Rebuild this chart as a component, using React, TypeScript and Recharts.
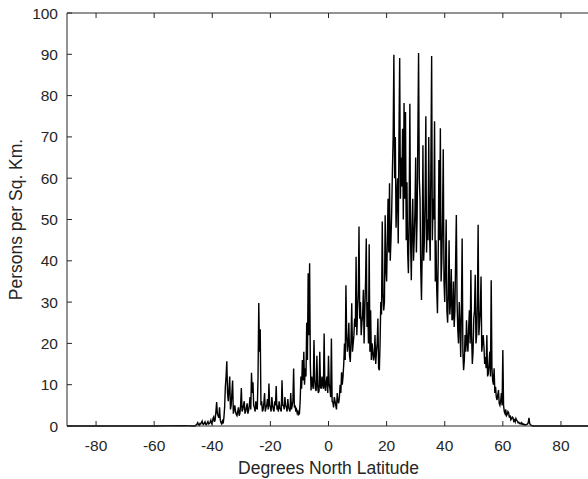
import React from 'react';
import { LineChart, Line, XAxis, YAxis } from 'recharts';

// empty far south, then quarter-degree samples from -46 N, then empty far north
const southLats = [-90, -60, -50, -46.5];
const southDensity = [0, 0, 0.1, 0];

const bandStart = -46;
const bandStep = 0.5;

// samples on whole and half degrees
const band1 = [0, 0.3, 0.8, 0.2, 0.5, 1.2, 0.4, 1.0, 0.3, 1.1, 0.6, 1.4, 0.8, 2.2, 1.5, 5.8, 2.5, 4.5, 0.8, 1.2];
const band2 = [2.0, 9.5, 15.7, 6.0, 12.0, 5.0, 11.0, 4.0, 3.5, 2.5, 4.5, 3.0, 9.2, 4.0, 6.0, 3.5, 5.5, 3.8, 7.0, 12.9];
const band3 = [10.6, 4.5, 6.0, 4.0, 29.8, 23.4, 6.0, 4.0, 8.0, 4.5, 6.5, 10.3, 4.5, 7.0, 4.0, 6.0, 9.7, 4.5, 6.0, 4.0];
const band4 = [11.1, 5.0, 7.0, 4.5, 6.5, 4.0, 8.0, 5.0, 13.9, 5.0, 4.0, 3.5, 3.0, 12.0, 16.0, 18.0, 14.0, 25.0, 37.0, 39.4];
const band5 = [8.6, 10.0, 20.8, 9.0, 17.0, 8.0, 18.0, 9.0, 10.0, 22.4, 8.5, 12.0, 17.0, 9.0, 21.2, 5.7, 7.0, 5.0, 8.0, 5.5];
const band6 = [10.0, 13.0, 12.0, 20.0, 34.1, 18.0, 25.0, 15.5, 29.7, 20.0, 26.0, 41.0, 28.0, 48.3, 30.0, 25.0, 33.0, 28.0, 45.4, 30.0];
const band7 = [44.0, 28.0, 20.0, 15.9, 22.0, 18.0, 26.0, 13.5, 30.0, 49.5, 28.0, 51.0, 35.0, 55.0, 58.8, 45.0, 62.0, 89.9, 70.0, 55.0];
const band8 = [44.2, 89.1, 65.0, 72.0, 78.2, 76.0, 59.0, 37.0, 78.0, 35.3, 55.0, 45.0, 65.0, 50.0, 90.3, 55.0, 30.5, 68.0, 45.0, 75.0];
const band9 = [50.0, 70.0, 40.0, 89.6, 55.0, 73.8, 45.0, 27.3, 64.4, 72.1, 40.0, 67.0, 30.0, 50.0, 25.0, 45.0, 30.0, 25.6, 35.0, 28.0];
const band10 = [51.1, 23.2, 30.0, 16.7, 45.4, 13.5, 22.0, 25.6, 18.0, 28.0, 37.8, 15.0, 26.0, 36.6, 22.0, 48.7, 25.0, 36.2, 20.0, 19.2];
const band11 = [16.7, 22.0, 12.7, 18.0, 35.3, 11.1, 14.0, 9.5, 6.3, 8.7, 5.0, 8.0, 18.4, 3.5, 4.0, 2.8, 3.2, 2.6, 1.8, 2.0];
const band12 = [1.5, 1.8, 1.2, 0.9, 0.7, 0.8, 0.5, 0.4, 0.3, 0.5, 2.0, 0.3, 0.1, 0, 0, 0, 0, 0, 0, 0];

// samples a quarter degree after each of the above
const mid1 = [0.1, 0.5, 0.3, 0.6, 0.8, 0.5, 0.7, 0.4, 0.8, 0.5, 0.9, 0.6, 1.8, 1.0, 3.5, 3.0, 2.0, 1.5, 0.5, 0.6];
const mid2 = [4.5, 12.0, 8.0, 9.0, 4.0, 8.0, 3.0, 5.0, 2.8, 3.5, 2.5, 5.0, 3.5, 5.0, 3.0, 4.5, 3.0, 5.0, 4.0, 8.0];
const mid3 = [5.0, 3.5, 4.5, 12.0, 18.0, 5.0, 3.5, 5.5, 3.5, 5.0, 4.0, 5.0, 3.5, 5.0, 3.5, 5.0, 4.0, 3.5, 4.5, 3.5];
const mid4 = [5.0, 4.0, 5.0, 3.5, 4.5, 3.5, 4.0, 6.0, 4.5, 3.5, 3.0, 2.8, 6.0, 9.0, 11.0, 10.0, 12.0, 16.0, 22.0, 15.0];
const mid5 = [12.0, 9.0, 11.0, 8.5, 10.0, 8.5, 9.5, 12.0, 9.0, 9.5, 11.0, 8.0, 10.0, 7.0, 6.0, 4.5, 6.0, 4.0, 6.0, 7.0];
const mid6 = [8.0, 10.0, 15.0, 16.0, 22.0, 20.0, 17.0, 21.0, 18.0, 22.0, 24.0, 22.0, 32.0, 26.0, 22.0, 27.0, 20.0, 35.0, 24.0, 20.0];
const mid7 = [18.0, 16.0, 18.0, 17.0, 15.0, 20.0, 14.0, 20.0, 27.0, 32.0, 30.0, 38.0, 45.0, 42.0, 40.0, 52.0, 70.0, 60.0, 48.0, 60.0];
const mid8 = [70.0, 55.0, 58.0, 50.0, 55.0, 45.0, 42.0, 50.0, 45.0, 48.0, 40.0, 52.0, 42.0, 70.0, 60.0, 38.0, 42.0, 40.0, 55.0, 42.0];
const mid9 = [45.0, 48.0, 65.0, 45.0, 50.0, 35.0, 33.0, 40.0, 45.0, 35.0, 50.0, 35.0, 38.0, 28.0, 32.0, 27.0, 38.0, 26.0, 24.0, 40.0];
const mid10 = [30.0, 20.0, 25.0, 28.0, 18.0, 16.0, 18.0, 20.0, 24.0, 20.0, 22.0, 18.0, 28.0, 20.0, 30.0, 22.0, 28.0, 18.0, 22.0, 15.0];
const mid11 = [14.0, 12.0, 15.0, 12.0, 14.0, 10.0, 8.0, 7.0, 7.5, 5.5, 6.0, 5.0, 5.0, 3.0, 2.5, 3.5, 2.0, 1.5, 2.2, 1.2];
const mid12 = [1.0, 1.4, 0.8, 0.6, 0.5, 0.4, 0.3, 0.2, 0.4, 0.8, 0.6, 0.2, 0, 0, 0, 0, 0, 0, 0, 0];

const northLats = [80, 90];
const northDensity = [0, 0];

const xTicks = [-80, -60, -40, -20, 0, 20, 40, 60, 80];
const yTicks = [0, 10, 20, 30, 40, 50, 60, 70, 80, 90, 100];

const samples = [band1, band2, band3, band4, band5, band6, band7, band8, band9, band10, band11, band12].flat();
const mids = [mid1, mid2, mid3, mid4, mid5, mid6, mid7, mid8, mid9, mid10, mid11, mid12].flat();

const data = [
  ...southLats.map((lat, i) => ({ lat, density: southDensity[i] })),
  ...samples.flatMap((density, i) => [
    { lat: bandStart + i * bandStep, density },
    { lat: bandStart + i * bandStep + bandStep / 2, density: mids[i] },
  ]),
  ...northLats.map((lat, i) => ({ lat, density: northDensity[i] })),
];

const INK = '#262626';
const FONT = 'Liberation Sans, Arial, sans-serif';
// negative tick size turns the tick marks inwards, matlab style
const IN_TICK = -5;

const BottomLabel = (p: any) => (
  <text x={p.x} y={p.y + 11} textAnchor="middle" fill={INK} fontSize={15.5} fontFamily={FONT}>
    {p.payload.value}
  </text>
);

const LeftLabel = (p: any) => (
  <text x={p.x} y={p.y + 5.5} textAnchor="end" fill={INK} fontSize={15.5} fontFamily={FONT}>
    {p.payload.value}
  </text>
);

// box axes: tick marks only, no labels
const NoLabel = () => <g />;

const YTitle = (p: any) => {
  const { x, y, height } = p.viewBox;
  const cx = x + 16;
  const cy = y + height / 2;
  return (
    <text x={cx} y={cy} transform={`rotate(-90 ${cx} ${cy})`} textAnchor="middle" dominantBaseline="central"
      fill={INK} fontSize={17.5} fontFamily={FONT}>
      Persons per Sq. Km.
    </text>
  );
};

const XTitle = (p: any) => {
  const { x, y, width } = p.viewBox;
  return (
    <text x={x + width / 2} y={y + 48} textAnchor="middle" fill={INK} fontSize={17.5} fontFamily={FONT}>
      Degrees North Latitude
    </text>
  );
};

export default function App() {
  return (
    <div style={{ position: 'absolute', left: 0, top: 0, width: 588, height: 479, overflow: 'hidden', background: '#fff' }}>
      <LineChart width={600} height={479} data={data} margin={{ top: 12, right: 9, left: 0, bottom: 0 }}>
        <XAxis
          dataKey="lat"
          type="number"
          domain={[-90, 90]}
          ticks={xTicks}
          interval={0}
          height={53}
          tickSize={IN_TICK}
          tickMargin={19}
          tick={<BottomLabel />}
          stroke={INK}
          label={<XTitle />}
        />
        <XAxis
          xAxisId="top"
          orientation="top"
          dataKey="lat"
          type="number"
          domain={[-90, 90]}
          ticks={xTicks}
          interval={0}
          height={1}
          tickSize={IN_TICK}
          tick={<NoLabel />}
          stroke={INK}
        />
        <YAxis
          type="number"
          domain={[0, 100]}
          ticks={yTicks}
          interval={0}
          width={67}
          tickSize={IN_TICK}
          tickMargin={14}
          tick={<LeftLabel />}
          stroke={INK}
          label={<YTitle />}
        />
        <YAxis
          yAxisId="right"
          orientation="right"
          type="number"
          domain={[0, 100]}
          ticks={yTicks}
          interval={0}
          width={1}
          tickSize={IN_TICK}
          tick={<NoLabel />}
          stroke={INK}
        />
        <Line
          type="linear"
          dataKey="density"
          stroke="#000"
          strokeWidth={1.4}
          dot={false}
          isAnimationActive={false}
        />
      </LineChart>
    </div>
  );
}
